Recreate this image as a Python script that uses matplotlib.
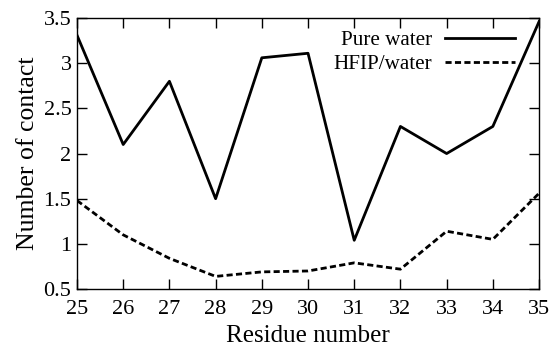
import matplotlib
matplotlib.use("Agg")
from matplotlib import pyplot as plt

# data
residue = [25, 26, 27, 28, 29, 30, 31, 32, 33, 34, 35]
pure_water = [3.31, 2.10, 2.80, 1.50, 3.06, 3.11, 1.04, 2.30, 2.00, 2.30, 3.46]
hfip_water = [1.48, 1.10, 0.84, 0.64, 0.69, 0.70, 0.79, 0.72, 1.14, 1.05, 1.56]

plt.rcParams['font.family'] = ['Liberation Serif', 'DejaVu Serif']
plt.rcParams['font.size'] = 16

fig = plt.figure(figsize=(5.54, 3.47), dpi=100)
ax = fig.add_axes([0.139, 0.167, 0.834, 0.781])

ax.plot(residue, pure_water, 'k-', lw=2, label='Pure water')
ax.plot(residue, hfip_water, 'k--', lw=2, dashes=(2.2, 1.2), label='HFIP/water')

ax.set_xlim(25, 35)
ax.set_ylim(0.5, 3.5)
ax.set_xticks(range(25, 36))
ax.set_yticks([0.5, 1, 1.5, 2, 2.5, 3, 3.5])
ax.set_yticklabels(['0.5', '1', '1.5', '2', '2.5', '3', '3.5'])
ax.tick_params(direction='in', top=True, right=True, length=7, width=1)
ax.tick_params(axis='x', pad=8)
ax.tick_params(axis='y', pad=4)
for s in ax.spines.values():
    s.set_linewidth(1)

ax.set_xlabel('Residue number', fontsize=18, labelpad=4)
ax.set_ylabel('Number of contact', fontsize=18.5, labelpad=3)

ax.legend(loc='upper right', frameon=False, markerfirst=False, handlelength=3.3,
          fontsize=15.2, borderaxespad=0.2, labelspacing=0.2, handletextpad=0.6,
          bbox_to_anchor=(0.975, 1.0))

fig.savefig('out.png', dpi=100)
